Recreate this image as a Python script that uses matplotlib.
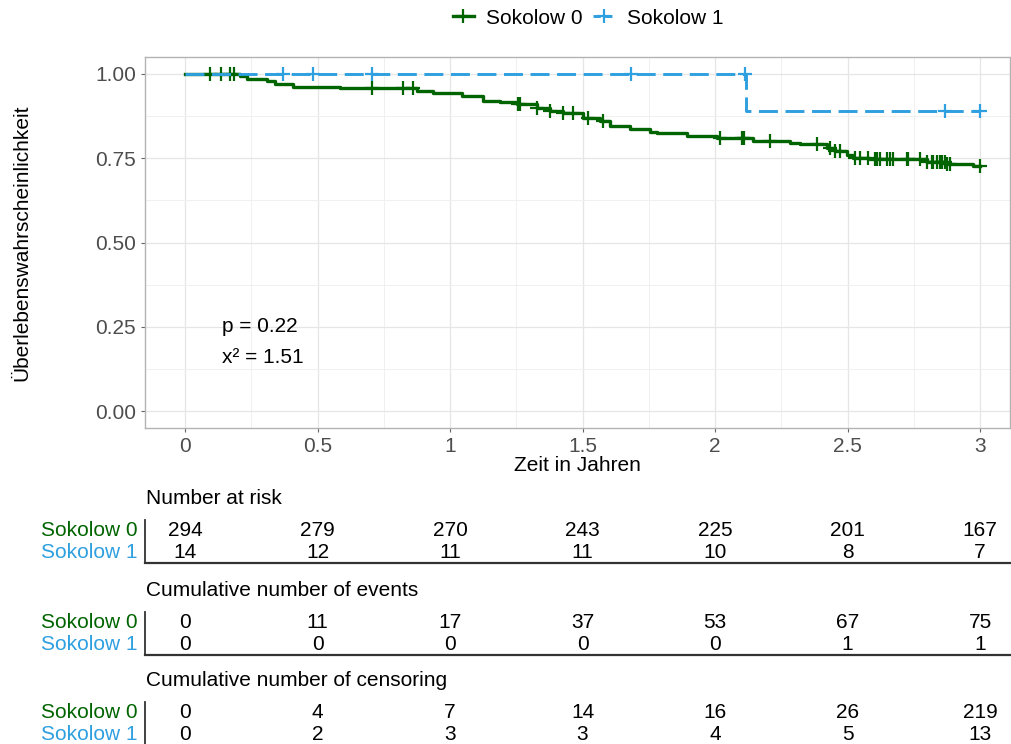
import numpy as np
import matplotlib
matplotlib.use("Agg")
import matplotlib.pyplot as plt
from matplotlib.lines import Line2D

plt.rcParams['font.family'] = ['Liberation Sans', 'DejaVu Sans']

# Kaplan-Meier steps
t0 = [0, 0.208, 0.234, 0.309, 0.340, 0.408, 0.585, 0.875, 0.936, 1.045, 1.125,
      1.189, 1.253, 1.328, 1.377, 1.426, 1.502, 1.566, 1.604, 1.679, 1.755,
      1.781, 1.894, 2.008, 2.143, 2.283, 2.321, 2.423, 2.453, 2.498, 2.521,
      2.585, 2.800, 2.875, 2.974, 3.0]
s0 = [1.0, 0.993, 0.986, 0.979, 0.969, 0.962, 0.957, 0.948, 0.942, 0.933, 0.921,
      0.918, 0.910, 0.898, 0.890, 0.885, 0.869, 0.861, 0.846, 0.837, 0.829,
      0.824, 0.816, 0.809, 0.802, 0.796, 0.791, 0.780, 0.770, 0.760, 0.750,
      0.747, 0.740, 0.733, 0.727, 0.727]
c0 = [0.094, 0.136, 0.170, 0.185, 0.706, 0.823, 0.860, 1.257, 1.264, 1.328,
      1.377, 1.426, 1.464, 1.521, 1.577, 2.019, 2.102, 2.109, 2.208, 2.385,
      2.434, 2.453, 2.472, 2.528, 2.547, 2.577, 2.604, 2.611, 2.623, 2.649,
      2.660, 2.672, 2.725, 2.728, 2.774, 2.800, 2.819, 2.823, 2.838, 2.849,
      2.857, 2.868, 2.875, 2.887, 3.0]

t1 = [0, 2.115, 3.0]
s1 = [1.0, 0.889, 0.889]
c1 = [0.370, 0.483, 0.706, 1.683, 2.112, 2.868, 3.0]

groups = ['Sokolow 0', 'Sokolow 1']
table_times = [0, 0.5, 1, 1.5, 2, 2.5, 3]
at_risk = [[294, 279, 270, 243, 225, 201, 167], [14, 12, 11, 11, 10, 8, 7]]
events = [[0, 11, 17, 37, 53, 67, 75], [0, 0, 0, 0, 0, 1, 1]]
censored = [[0, 4, 7, 14, 16, 26, 219], [0, 2, 3, 3, 4, 5, 13]]

green = '#006400'
blue = '#2E9FDF'
colors = [green, blue]

W, H = 1011, 744
fig = plt.figure(figsize=(W / 100, H / 100), dpi=100)

def box(l, t, r, b):
    return [l / W, 1 - b / H, (r - l) / W, (b - t) / H]

xlim = (-0.151, 3.113)

ax = fig.add_axes(box(145, 57, 1010, 428))
ax.set_xlim(*xlim)
ax.set_ylim(-0.05, 1.05)

def surv_at(times, surv, x):
    idx = np.searchsorted(times, x, side='right') - 1
    return np.array(surv)[idx]

ax.step(t0, s0, where='post', color=green, lw=2.4, zorder=3)
ax.plot(c0, surv_at(t0, s0, c0), '+', color=green, ms=10, mew=1.6, zorder=3)
ax.step(t1, s1, where='post', color=blue, lw=2.1, dashes=(6.5, 2.6), zorder=4)
ax.plot(c1, surv_at(t1, s1, c1), '+', color=blue, ms=10, mew=1.6, zorder=4)

ax.set_xticks(table_times)
ax.set_xticklabels(['0', '0.5', '1', '1.5', '2', '2.5', '3'])
ax.set_xticks(np.arange(0.25, 3, 0.5), minor=True)
ax.set_yticks([0, 0.25, 0.5, 0.75, 1.0])
ax.set_yticklabels(['0.00', '0.25', '0.50', '0.75', '1.00'])
ax.set_yticks([0.125, 0.375, 0.625, 0.875], minor=True)
ax.grid(which='major', color='#E6E6E6', lw=0.9)
ax.grid(which='minor', color='#F0F0F0', lw=0.7)
ax.set_axisbelow(True)
ax.tick_params(which='major', labelsize=15, labelcolor='#4D4D4D', color='#666666',
               length=3, width=0.8)
ax.tick_params(which='minor', length=0)
for sp in ax.spines.values():
    sp.set_color('#B3B3B3')
    sp.set_linewidth(1.0)
ax.set_xlabel('Zeit in Jahren', fontsize=15, labelpad=0)
ax.set_ylabel('Überlebenswahrscheinlichkeit', fontsize=15, labelpad=46)

ax.text(0.14, 0.25, 'p = 0.22', fontsize=15, va='center', ha='left')
ax.text(0.14, 0.16, 'x² = 1.51', fontsize=15, va='center', ha='left')

handles = [Line2D([], [], color=green, lw=2.4, marker='+', ms=10, mew=1.6),
           Line2D([], [], color=blue, lw=2.1, dashes=(2.5, 1.5), marker='+', ms=10, mew=1.6)]
fig.legend(handles, groups, loc='center', bbox_to_anchor=(588 / W, 1 - 18 / H),
           ncol=2, frameon=False, fontsize=15, handlelength=1.0, handletextpad=0.6,
           columnspacing=0.5)

tables = [('Number at risk', at_risk, 498, 520, 563),
          ('Cumulative number of events', events, 590, 612, 655),
          ('Cumulative number of censoring', censored, 680, 702, 745)]

for title, vals, ty, top, bot in tables:
    fig.text(146 / W, 1 - ty / H, title, fontsize=15, va='center', ha='left')
    tax = fig.add_axes(box(145, top, 1010, bot))
    tax.set_xlim(*xlim)
    tax.set_ylim(0, 2)
    tax.set_xticks([])
    tax.set_yticks([])
    tax.patch.set_alpha(0)
    for k in ['top', 'right']:
        tax.spines[k].set_visible(False)
    tax.spines['left'].set_color('#333333')
    tax.spines['bottom'].set_color('#333333')
    tax.spines['left'].set_linewidth(1.3)
    tax.spines['bottom'].set_linewidth(1.6)
    if bot > 744:
        tax.spines['bottom'].set_visible(False)
    for g, row in enumerate(vals):
        y = 1.5 - g
        for tt, v in zip(table_times, row):
            tax.text(tt, y, str(v), fontsize=15, ha='center', va='center')
        tax.text(-0.009, y, groups[g], fontsize=15, ha='right', va='center',
                 color=colors[g], transform=tax.get_yaxis_transform())

fig.savefig('out.png', dpi=100)
